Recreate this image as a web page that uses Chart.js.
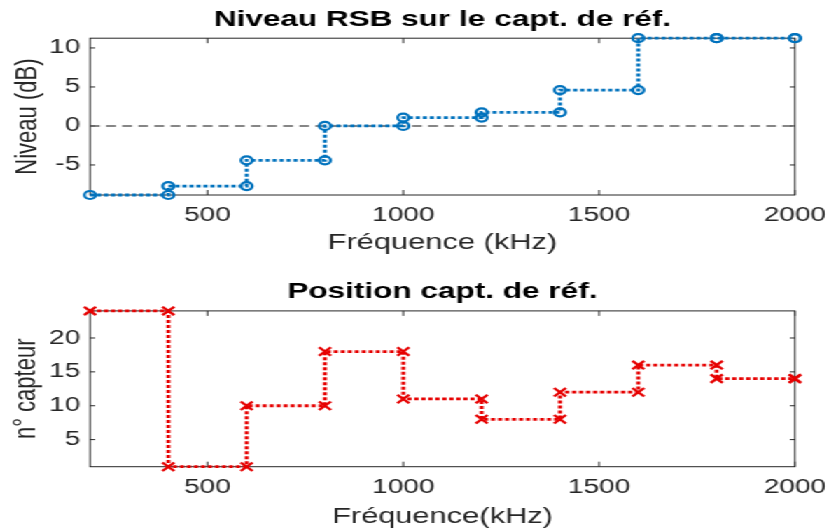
<!DOCTYPE html>
<html>
<head>
<meta charset="utf-8">
<script src="https://cdn.jsdelivr.net/npm/chart.js@4/dist/chart.umd.min.js"></script>
<style>
  html, body { margin: 0; padding: 0; background: #fff; }
  /* the figure is drawn narrow and widened afterwards */
  #figure { position: absolute; left: 0; top: 0; width: 592px; height: 531px;
            transform: scaleX(1.4003); transform-origin: 0 0; }
  canvas { display: block; }
</style>
</head>
<body>
<div id="figure">
  <canvas id="snrchart" width="592" height="265"></canvas>
  <canvas id="sensorchart" width="592" height="266"></canvas>
</div>
<script>
// frequency (kHz) and the value found at each one
var freqs = [200, 400, 600, 800, 1000, 1200, 1400, 1600, 1800, 2000];
var snrLevels = [-8.85, -7.7, -4.4, 0, 1.07, 1.75, 4.6, 11.25, 11.25, 11.25];
var refSensors = [24, 1, 10, 18, 11, 8, 12, 16, 14, 14];
var refLevel = 0;

var freqTicks = [500, 1000, 1500, 2000];
var snrTicks = [-5, 0, 5, 10];
var sensorTicks = [5, 10, 15, 20];

Chart.defaults.font.family = "'Liberation Sans', Arial, sans-serif";

// stairs with a marker on both ends of every jump
function stairs(xs, ys) {
    var pts = [];
    xs.forEach(function (x, i) {
        if (i > 0) pts.push({ x: x, y: ys[i - 1] });
        pts.push({ x: x, y: ys[i] });
    });
    return pts;
}

// closed box with inward ticks on the four sides
var axesBox = {
    id: 'axesBox',
    beforeDatasetsDraw: function (chart) {
        var ctx = chart.ctx;
        var a = chart.chartArea;
        var xs = chart.scales.x;
        var ys = chart.scales.y;
        ctx.save();
        ctx.strokeStyle = '#262626';
        ctx.lineWidth = 1;
        ctx.strokeRect(a.left, a.top, a.right - a.left, a.bottom - a.top);
        ctx.beginPath();
        xs.ticks.forEach(function (t) {
            var px = xs.getPixelForValue(t.value);
            ctx.moveTo(px, a.bottom); ctx.lineTo(px, a.bottom - 5);
            ctx.moveTo(px, a.top); ctx.lineTo(px, a.top + 5);
        });
        ys.ticks.forEach(function (t) {
            var py = ys.getPixelForValue(t.value);
            ctx.moveTo(a.left, py); ctx.lineTo(a.left + 3.6, py);
            ctx.moveTo(a.right, py); ctx.lineTo(a.right - 3.6, py);
        });
        ctx.stroke();
        ctx.restore();
    }
};

function plainNumber(v) {
    return String(v);
}

function chartOptions(o) {
    return {
        responsive: false,
        animation: false,
        events: [],
        layout: { padding: { left: 0, right: 24.3, top: 0, bottom: 0 } },
        plugins: {
            legend: { display: false },
            tooltip: { enabled: false },
            title: {
                display: true,
                text: o.title,
                fullSize: false,
                color: '#000',
                font: { size: 22.5, weight: 'bold' },
                padding: o.titlePad
            }
        },
        scales: {
            x: {
                type: 'linear',
                min: freqs[0],
                max: freqs[freqs.length - 1],
                grid: { display: false, drawTicks: false },
                border: { display: false },
                ticks: { color: '#262626', font: { size: 20 }, padding: o.xTickPad, maxRotation: 0, callback: plainNumber },
                afterBuildTicks: function (s) { s.ticks = freqTicks.map(function (v) { return { value: v }; }); },
                afterFit: function (s) {
                    s.height = o.xHeight;
                    // the right margin comes from layout.padding alone
                    s.paddingLeft = 0;
                    s.paddingRight = 0;
                },
                title: {
                    display: true, text: o.xLabel, color: '#262626',
                    font: { size: 22 }, padding: { top: 0, bottom: o.xTitlePad }
                }
            },
            y: {
                min: o.yMin,
                max: o.yMax,
                grid: { display: false, drawTicks: false },
                border: { display: false },
                ticks: { color: '#262626', font: { size: 20 }, padding: 7, callback: plainNumber },
                afterBuildTicks: function (s) { s.ticks = o.yTicks.map(function (v) { return { value: v }; }); },
                afterFit: function (s) { s.width = 64.27; },
                title: {
                    display: true, text: o.yLabel, color: '#262626',
                    font: { size: 22 }, padding: { top: o.yTitlePad, bottom: 0 }
                }
            }
        }
    };
}

const snrchart = new Chart(document.getElementById('snrchart'), {
    type: 'line',
    data: {
        datasets: [
            {
                data: stairs(freqs, snrLevels),
                borderColor: '#0072BD',
                borderWidth: 2.8,
                borderDash: [3, 2],
                pointStyle: 'circle',
                pointRadius: 4,
                pointBorderWidth: 2.2,
                pointBorderColor: '#0072BD',
                pointBackgroundColor: 'rgba(255,255,255,0)',
                clip: false
            },
            {
                // reference level
                data: [{ x: freqs[0], y: refLevel }, { x: freqs[freqs.length - 1], y: refLevel }],
                borderColor: '#5f5f5f',
                borderWidth: 1.5,
                borderDash: [7, 4.5],
                pointRadius: 0
            }
        ]
    },
    options: chartOptions({
        title: 'Niveau RSB sur le capt. de réf.',
        titlePad: { top: 6, bottom: 5.2 },
        xLabel: 'Fréquence (kHz)',
        xHeight: 70,
        xTickPad: 8,
        xTitlePad: 9.3,
        yLabel: 'Niveau (dB)',
        yTitlePad: 6.8,
        yMin: Math.min.apply(null, snrLevels),
        yMax: Math.max.apply(null, snrLevels),
        yTicks: snrTicks
    }),
    plugins: [axesBox]
});

const sensorchart = new Chart(document.getElementById('sensorchart'), {
    type: 'line',
    data: {
        datasets: [
            {
                data: stairs(freqs, refSensors),
                borderColor: '#e60000',
                borderWidth: 2.8,
                borderDash: [3, 2],
                pointStyle: 'crossRot',
                pointRadius: 6,
                pointBorderWidth: 2.2,
                pointBorderColor: '#e60000',
                clip: false
            }
        ]
    },
    options: chartOptions({
        title: 'Position capt. de réf.',
        titlePad: { top: 13, bottom: 5.9 },
        xLabel: 'Fréquence(kHz)',
        xHeight: 64.3,
        xTickPad: 8.3,
        xTitlePad: 0.8,
        yLabel: 'n° capteur',
        yTitlePad: 5.4,
        yMin: Math.min.apply(null, refSensors),
        yMax: Math.max.apply(null, refSensors),
        yTicks: sensorTicks
    }),
    plugins: [axesBox]
});
</script>
</body>
</html>
